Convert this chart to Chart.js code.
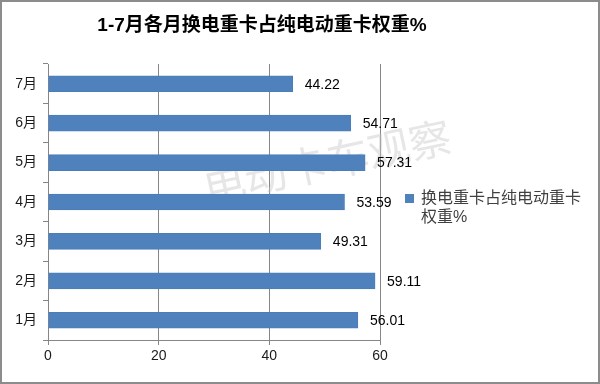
<!DOCTYPE html>
<html>
<head>
<meta charset="utf-8">
<script src="https://cdn.jsdelivr.net/npm/chart.js@4.4.0/dist/chart.umd.min.js"></script>
<style>
  html, body { margin: 0; padding: 0; background: #fff; }
  #wrap { width: 600px; height: 384px; }
</style>
</head>
<body>
<div id="wrap"><canvas id="swapChart" width="600" height="384"></canvas></div>
<script>
const months = ['7月', '6月', '5月', '4月', '3月', '2月', '1月'];
const shares = [44.22, 54.71, 57.31, 53.59, 49.31, 59.11, 56.01];
const xTicks = [0, 20, 40, 60];
const seriesName = '换电重卡占纯电动重卡权重%';
const legendLines = ['换电重卡占纯电动重卡', '权重%'];
const chartTitle = '1-7月各月换电重卡占纯电动重卡权重%';
const watermark = '电动卡车观察';

const FONT = "'Liberation Sans', 'Noto Sans CJK SC', sans-serif";

// frame, title, watermark, value labels and legend drawn by hand
const decorPlugin = {
  id: 'decor',
  beforeDraw(chart) {
    const ctx = chart.ctx;
    ctx.save();
    ctx.fillStyle = '#ffffff';
    ctx.fillRect(0, 0, chart.width, chart.height);
    ctx.strokeStyle = '#8c8c8c';
    ctx.lineWidth = 2;
    ctx.strokeRect(1, 1, chart.width - 2, chart.height - 2);
    ctx.fillStyle = '#000';
    ctx.font = 'bold 19px ' + FONT;
    ctx.textAlign = 'center';
    ctx.textBaseline = 'middle';
    ctx.fillText(chartTitle, 262, 26);
    ctx.restore();
  },
  beforeDatasetsDraw(chart) {
    const ctx = chart.ctx;
    ctx.save();
    ctx.translate(328, 166);
    ctx.rotate(-12 * Math.PI / 180);
    ctx.fillStyle = 'rgba(200,200,200,0.45)';
    ctx.font = '42px ' + FONT;
    ctx.textAlign = 'center';
    ctx.textBaseline = 'middle';
    ctx.fillText(watermark, 0, 0);
    ctx.restore();
  },
  afterDatasetsDraw(chart) {
    const ctx = chart.ctx;
    const meta = chart.getDatasetMeta(0);
    ctx.save();
    ctx.fillStyle = '#000';
    ctx.font = '14px ' + FONT;
    ctx.textAlign = 'left';
    ctx.textBaseline = 'middle';
    meta.data.forEach((bar, i) => {
      ctx.fillText(shares[i].toFixed(2), bar.x + 12, bar.y + 1);
    });
    // legend
    ctx.fillStyle = '#4f81bd';
    ctx.fillRect(405, 194, 9, 9);
    ctx.fillStyle = '#404040';
    ctx.font = '16px ' + FONT;
    ctx.fillText(legendLines[0], 421, 199);
    ctx.fillText(legendLines[1], 421, 218);
    ctx.restore();
  },
};

const config = {
  type: 'bar',
  data: {
    labels: months,
    datasets: [
      {
        label: seriesName,
        data: shares,
        backgroundColor: '#4f81bd',
        borderColor: '#4a7ebb',
        borderWidth: 1,
        barThickness: 16,
      },
    ],
  },
  options: {
    indexAxis: 'y',
    responsive: false,
    animation: false,
    layout: { padding: { left: 0, right: 220, top: 64, bottom: 0 } },
    plugins: {
      legend: { display: false },
      title: { display: false },
      tooltip: { enabled: false },
    },
    scales: {
      x: {
        min: 0,
        max: 60,
        afterBuildTicks: (scale) => {
          scale.ticks = xTicks.map((v) => ({ value: v }));
        },
        afterFit: (scale) => {
          scale.height = 44;
        },
        grid: {
          color: '#868686',
          lineWidth: 1,
          drawTicks: true,
          tickLength: 5,
          tickColor: '#868686',
        },
        border: { color: '#868686', width: 1 },
        ticks: {
          color: '#1a1a1a',
          font: { family: FONT, size: 14 },
          padding: 3,
        },
      },
      y: {
        afterFit: (scale) => {
          scale.width = 48;
        },
        grid: {
          offset: true,
          drawOnChartArea: false,
          drawTicks: true,
          tickLength: 5,
          tickColor: '#868686',
        },
        border: { color: '#868686', width: 1 },
        ticks: {
          color: '#1a1a1a',
          font: { family: FONT, size: 14 },
          padding: 6,
        },
      },
    },
  },
  plugins: [decorPlugin],
};

new Chart(document.getElementById('swapChart'), config);
</script>
</body>
</html>
